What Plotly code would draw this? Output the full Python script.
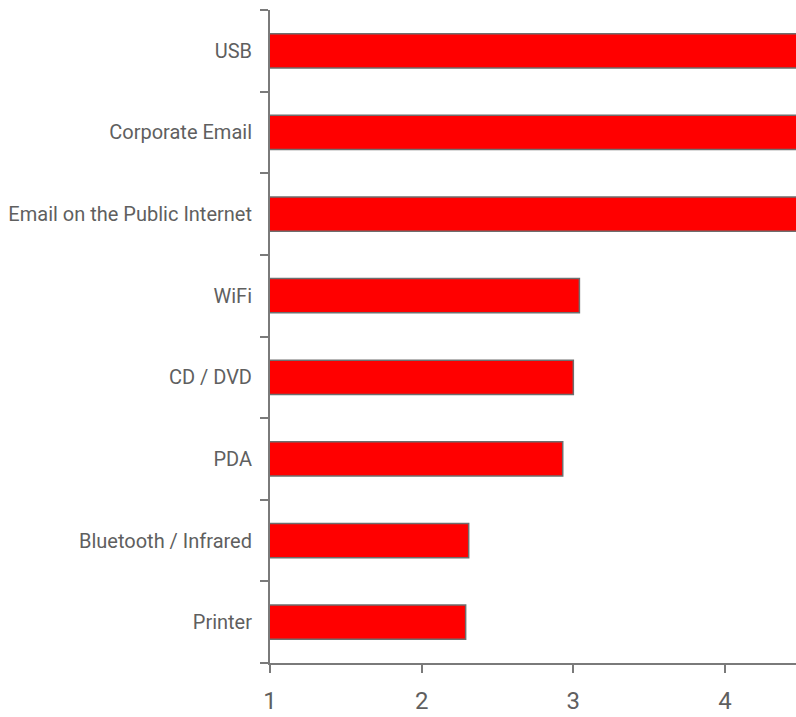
import plotly.graph_objects as go

categories = ["USB", "Corporate Email", "Email on the Public Internet", "WiFi",
              "CD / DVD", "PDA", "Bluetooth / Infrared", "Printer"]
values = [4.7, 4.6, 4.55, 3.04, 3.00, 2.93, 2.31, 2.29]
x_ticks = [1, 2, 3, 4]

FONT = "Roboto, sans-serif"
TXT = "#5f5f5f"
AX = "#7a7a7a"

fig = go.Figure(go.Bar(
    y=categories, x=values, orientation="h",
    width=0.42,
    marker=dict(color="#ff0000", line=dict(color="#6e6e6e", width=1.5)),
    hoverinfo="x+y",
))

fig.update_layout(
    width=796, height=717,
    margin=dict(l=270, r=0, t=10, b=54),
    paper_bgcolor="white", plot_bgcolor="white",
    showlegend=False,
    font=dict(family=FONT, size=20, color=TXT),
)
fig.update_xaxes(
    range=[1, 4.468], tickvals=x_ticks, ticktext=[str(v) for v in x_ticks],
    showgrid=False, zeroline=False, automargin=False,
    showline=True, linecolor=AX, linewidth=2,
    ticks="outside", ticklen=8, tickcolor=AX, tickwidth=1.5,
    tickfont=dict(family=FONT, size=24, color=TXT),
    ticklabelstandoff=7,
)
fig.update_yaxes(
    categoryorder="array", categoryarray=categories[::-1],
    range=[-0.5, 7.5], tickson="boundaries",
    showgrid=False, zeroline=False, automargin=False,
    showline=True, linecolor=AX, linewidth=2,
    ticks="outside", ticklen=8, tickcolor=AX, tickwidth=1.5,
    tickfont=dict(family=FONT, size=20, color=TXT),
    ticklabelstandoff=12,
)

fig.write_html("out.html")
